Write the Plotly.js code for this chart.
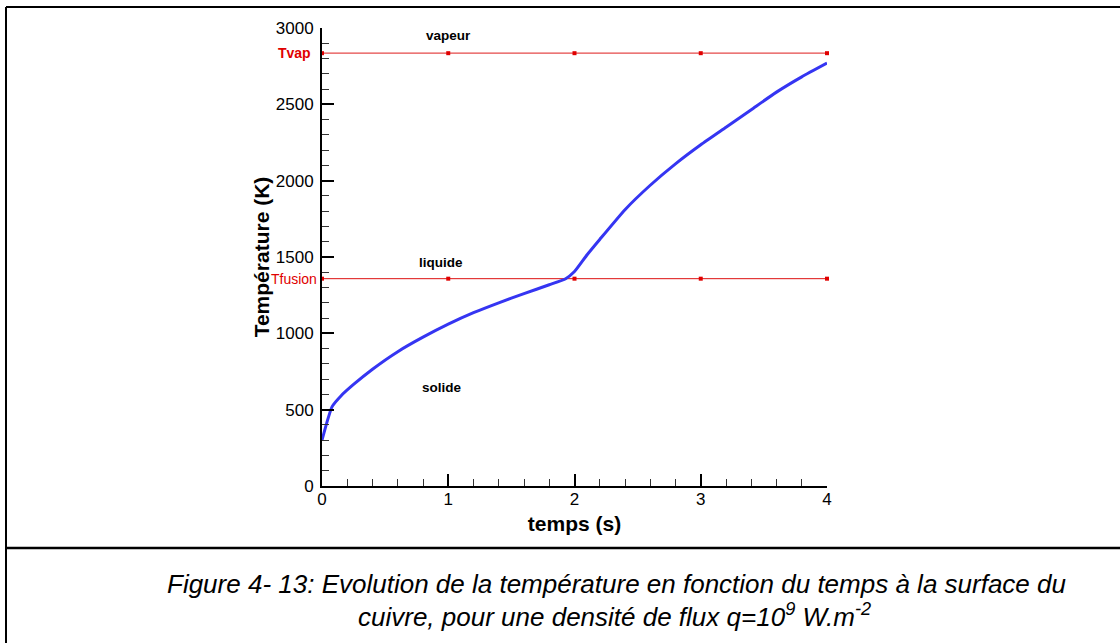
<!DOCTYPE html>
<html>
<head>
<meta charset="utf-8">
<script src="https://cdn.plot.ly/plotly-3.0.1.min.js"></script>
<style>
  html, body { margin: 0; padding: 0; background: #ffffff; }
  #chart { width: 1120px; height: 643px; }
</style>
</head>
<body>
<div id="chart"></div>
<script>
// ---- data ----
const time = [0, 0.04, 0.08, 0.15, 0.25, 0.4, 0.6, 0.8, 1.0, 1.2, 1.4, 1.6, 1.8, 1.93, 2.0, 2.1, 2.2, 2.4, 2.6, 2.8, 3.0, 3.2, 3.4, 3.6, 3.8, 4.0];
const temperature = [300, 420, 520, 590, 665, 765, 880, 975, 1060, 1135, 1200, 1260, 1318, 1358, 1405, 1515, 1615, 1810, 1970, 2110, 2235, 2350, 2465, 2580, 2680, 2770];
const phaseTimes = [0, 1, 2, 3, 4];
const Tvap = 2835;
const Tfusion = 1358;
const xTickVals = [0, 1, 2, 3, 4];
const yTickVals = [0, 500, 1000, 1500, 2000, 2500, 3000];
const phaseLabels = ["vapeur", "liquide", "solide"];
const phaseLabelX = [1.0, 0.94, 0.95];
const phaseLabelY = [2950, 1467, 642];

// ---- pixel helpers for decorations (plot area 322..827 x 28..486) ----
const PL = 322, PR = 827, PT = 28, PB = 486;
const px = v => (v - PL) / (PR - PL);
const py = v => (PB - v) / (PB - PT);

const FONT = "Liberation Sans, Arial, Helvetica, sans-serif";

const traces = [
  {
    x: phaseTimes, y: phaseTimes.map(() => Tvap),
    mode: "lines+markers", type: "scatter",
    line: {color: "#e54848", width: 1.3},
    marker: {symbol: "square", size: 4, color: "#e00000"},
    cliponaxis: false, hoverinfo: "skip"
  },
  {
    x: phaseTimes, y: phaseTimes.map(() => Tfusion),
    mode: "lines+markers", type: "scatter",
    line: {color: "#dd1010", width: 1},
    marker: {symbol: "square", size: 4, color: "#e00000"},
    cliponaxis: false, hoverinfo: "skip"
  },
  {
    x: time, y: temperature,
    mode: "lines", type: "scatter",
    line: {color: "#3535f2", width: 3, shape: "spline", smoothing: 0.5},
    cliponaxis: false
  }
];

const annotations = [];
phaseLabels.forEach((t, i) => {
  annotations.push({
    text: "<b>" + t + "</b>", x: phaseLabelX[i], y: phaseLabelY[i],
    xref: "x", yref: "y", showarrow: false,
    font: {family: FONT, size: 13.5, color: "#000"}
  });
});
annotations.push({
  text: "<b>Tvap</b>", x: px(313), y: Tvap, xref: "paper", yref: "y",
  xanchor: "right", yanchor: "middle", showarrow: false,
  font: {family: FONT, size: 14, color: "#e00000"}
});
annotations.push({
  text: "Tfusion", x: px(319), y: Tfusion, xref: "paper", yref: "y",
  xanchor: "right", yanchor: "middle", showarrow: false,
  font: {family: FONT, size: 14, color: "#e00000"}
});
annotations.push({
  text: "<i>Figure 4- 13: Evolution de la température en fonction du temps à la surface du</i>",
  x: px(616), y: py(584), xref: "paper", yref: "paper",
  xanchor: "center", yanchor: "middle", showarrow: false,
  font: {family: FONT, size: 26, color: "#000"}
});
annotations.push({
  text: "<i>cuivre, pour une densité de flux q=10<sup>9</sup> W.m<sup>-2</sup></i>",
  x: px(614), y: py(615), xref: "paper", yref: "paper",
  xanchor: "center", yanchor: "middle", showarrow: false,
  font: {family: FONT, size: 26, color: "#000"}
});

const shapes = [
  // outer frame and caption separator
  {type: "line", xref: "paper", yref: "paper", x0: px(6), x1: px(6), y0: py(7), y1: py(645), line: {color: "#000", width: 2}},
  {type: "line", xref: "paper", yref: "paper", x0: px(6), x1: px(1120), y0: py(7), y1: py(7), line: {color: "#000", width: 2}},
  {type: "line", xref: "paper", yref: "paper", x0: px(6), x1: px(1120), y0: py(548), y1: py(548), line: {color: "#000", width: 2.5}}
];

const layout = {
  width: 1120, height: 643,
  margin: {l: PL, r: 1120 - PR, t: PT, b: 643 - PB, pad: 0},
  paper_bgcolor: "#ffffff", plot_bgcolor: "#ffffff",
  showlegend: false,
  font: {family: FONT, color: "#000"},
  xaxis: {
    range: [0, 4], autorange: false, fixedrange: true,
    tickvals: xTickVals, ticktext: xTickVals.map(String),
    showline: true, linecolor: "#000", linewidth: 2,
    ticks: "inside", ticklen: 12, tickwidth: 2, tickcolor: "#000",
    minor: {ticks: "inside", ticklen: 7, tickwidth: 1, tickcolor: "#333", dtick: 0.2, tick0: 0, showgrid: false},
    showgrid: false, zeroline: false,
    tickfont: {family: FONT, size: 17, color: "#000"},
    ticklabelstandoff: -3,
    title: {text: "<b>temps (s)</b>", font: {family: FONT, size: 21, color: "#000"}, standoff: 8},
    automargin: false
  },
  yaxis: {
    range: [0, 3000], autorange: false, fixedrange: true,
    tickvals: yTickVals, ticktext: yTickVals.map(String),
    showline: true, linecolor: "#000", linewidth: 2,
    ticks: "inside", ticklen: 12, tickwidth: 2, tickcolor: "#000",
    minor: {ticks: "inside", ticklen: 7, tickwidth: 1, tickcolor: "#333", dtick: 100, tick0: 0, showgrid: false},
    showgrid: false, zeroline: false,
    tickfont: {family: FONT, size: 17, color: "#000"},
    ticklabelstandoff: 3,
    title: {text: "<b>Température (K)</b>", font: {family: FONT, size: 21, color: "#000"}, standoff: 0},
    automargin: false
  },
  annotations: annotations,
  shapes: shapes
};

Plotly.newPlot("chart", traces, layout, {displayModeBar: false, staticPlot: true});
</script>
</body>
</html>
